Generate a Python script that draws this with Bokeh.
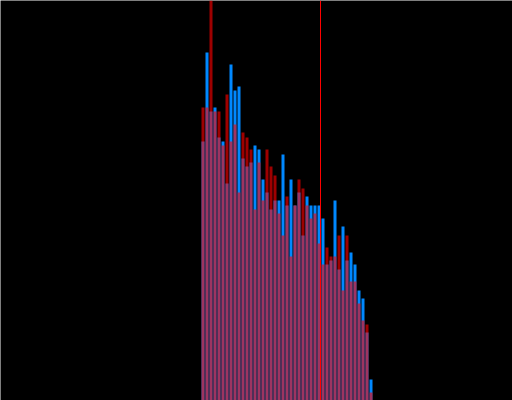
from bokeh.plotting import figure
from bokeh.models import Span, ColumnDataSource, Range1d
from bokeh.embed import file_html
from bokeh.resources import INLINE

# bin index of each bar
bins = list(range(43))
# heights of the blue series (same units as the y axis)
blue = [259, 348, 289, 293, 263, 259, 217, 336, 310, 314, 242,
        234, 238, 255, 251, 221, 208, 191, 200, 200, 246, 195,
        221, 195, 208, 165, 204, 195, 195, 195, 182, 136, 140,
        200, 131, 174, 140, 148, 136, 110, 102, 68, 21]
# heights of the red series
red = [293, 293, 430, 289, 289, 255, 306, 259, 276, 208, 268,
       263, 251, 191, 238, 200, 251, 234, 225, 187, 165, 204,
       144, 195, 221, 212, 195, 182, 187, 157, 136, 153, 144,
       144, 165, 110, 165, 119, 119, 97, 80, 76, 8]
threshold = 29.375

src = ColumnDataSource(dict(x=bins, blue=blue, red=red))

p = figure(width=512, height=400, output_backend="svg", toolbar_location=None,
           x_range=Range1d(-50.625, 77.375), y_range=Range1d(0, 400),
           min_border=0, background_fill_color="black", border_fill_color="black",
           outline_line_color=None)
p.axis.visible = False
p.grid.visible = False

p.vbar(x="x", top="blue", width=0.75, bottom=0, source=src,
       fill_color="#0088ff", line_color=None)
p.vbar(x="x", top="red", width=0.75, bottom=0, source=src,
       fill_color="#ff0000", fill_alpha=0.62, line_color=None)
p.add_layout(Span(location=threshold, dimension="height", line_color="#ff0000", line_width=1))

open("out.html", "w").write(file_html(p, INLINE))
